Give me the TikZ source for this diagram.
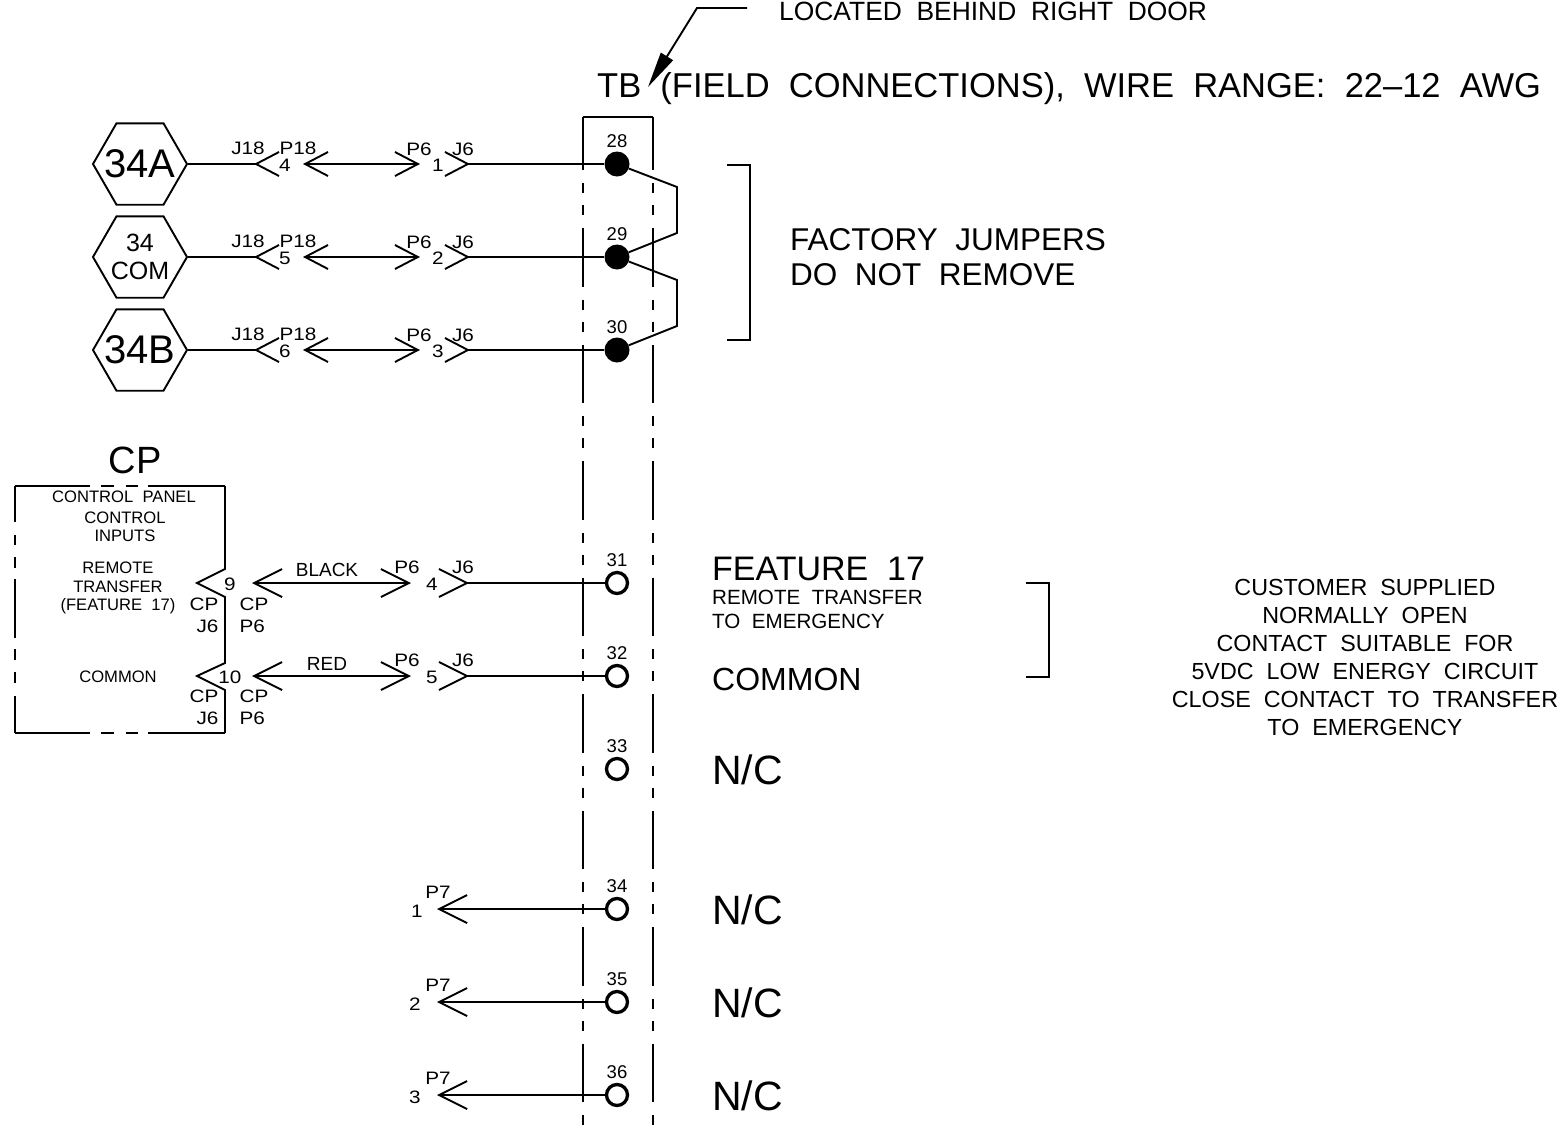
\documentclass[tikz,border=0pt]{standalone}
\usepackage{fontspec}
\setmainfont[WordSpace=2]{Liberation Sans}
\newfontfamily\pinfont[FakeStretch=1.15,WordSpace=2]{Liberation Sans}
\usepackage{tikz}
\usetikzlibrary{shapes.geometric, arrows.meta}
\tikzstyle{wire} = [line width=1.9pt, line cap=butt]
\tikzstyle{arrow} = [wire, <->, >={Straight Barb[length=23pt,width=24pt]}]
\tikzstyle{plug} = [wire, -{Straight Barb[reversed,length=23pt,width=24pt]}]
\tikzstyle{bigarrow} = [wire, <->, >={Straight Barb[length=28pt,width=28pt]}]
\tikzstyle{bigplug} = [wire, -{Straight Barb[reversed,length=28pt,width=28pt]}]
\tikzstyle{tbline} = [wire, dash pattern=on 58.5pt off 13pt on 10pt off 12pt on 10pt off 13pt, dash phase=5.5pt]
\tikzstyle{hexa} = [regular polygon, regular polygon sides=6, minimum size=94pt, inner sep=0pt, draw=black, wire]
\tikzstyle{solidterm} = [circle, fill=black, minimum size=25pt, inner sep=0pt]
\tikzstyle{openterm} = [circle, draw=black, fill=white, line width=3.3pt, minimum size=21pt, inner sep=0pt]
\tikzstyle{num} = [inner sep=0pt, node distance=23pt, font=\fontsize{18.5}{20}\selectfont]
\tikzstyle{pin} = [inner sep=0pt, font=\pinfont\fontsize{18}{22}\selectfont]
\tikzstyle{small} = [inner sep=0pt, align=center, font=\fontsize{16.6}{18.5}\selectfont]
\tikzstyle{lefttext} = [inner sep=0pt, anchor=west, align=left]

\begin{document}
\begin{tikzpicture}[x=1pt, y=-1pt, node distance=93pt]
    \useasboundingbox (0,0) rectangle (1558,1130);

    % terminal block
    \coordinate (tbl) at (583,117);
    \coordinate (tbr) at (653,117);
    \coordinate (tblb) at (583,1128);
    \coordinate (tbrb) at (653,1128);
    \draw [wire] (tbl) -- (tbr);
    \draw [tbline] (tbl) -- (tblb);
    \draw [tbline] (tbr) -- (tbrb);

    \node (t28) [solidterm] at (617,164) {};
    \node (t29) [solidterm, below of=t28] {};
    \node (t30) [solidterm, below of=t29] {};
    \node (t31) [openterm, below of=t30, yshift=-140pt] {};
    \node (t32) [openterm, below of=t31] {};
    \node (t33) [openterm, below of=t32] {};
    \node (t34) [openterm, below of=t33, yshift=-47pt] {};
    \node (t35) [openterm, below of=t34] {};
    \node (t36) [openterm, below of=t35] {};
    \node (n28) [num, above of=t28] {28};
    \node (n29) [num, above of=t29] {29};
    \node (n30) [num, above of=t30] {30};
    \node (n31) [num, above of=t31] {31};
    \node (n32) [num, above of=t32] {32};
    \node (n33) [num, above of=t33] {33};
    \node (n34) [num, above of=t34] {34};
    \node (n35) [num, above of=t35] {35};
    \node (n36) [num, above of=t36] {36};

    % title and pointer
    \node (located) [lefttext, font=\fontsize{26.4}{28}\selectfont] at (779,11) {LOCATED BEHIND RIGHT DOOR};
    \node (tbtitle) [lefttext, font=\fontsize{34.5}{36}\selectfont] at (597,89) {TB (FIELD CONNECTIONS), WIRE RANGE: 22–12 AWG};
    \coordinate (lead) at (747,8);
    \coordinate (bend) at (697,8);
    \coordinate (tbtip) at (648,87);
    \draw [wire, -{Triangle[length=36pt,width=14pt]}] (lead) -- (bend) -- (tbtip);

    % hexagons
    \node (h34a) [hexa] at (140,164) {};
    \node (h34c) [hexa, below of=h34a] {};
    \node (h34b) [hexa, below of=h34c] {};
    \node (l34a) [font=\fontsize{40}{42}\selectfont] at (h34a) {34A};
    \node (l34c) [align=center, font=\fontsize{25}{28}\selectfont] at (h34c) {34\\COM};
    \node (l34b) [font=\fontsize{40}{42}\selectfont] at (h34b) {34B};

    % first row
    \coordinate (a1) at (280,164);
    \coordinate (a2) at (303,164);
    \coordinate (a3) at (420,164);
    \coordinate (a4) at (444,164);
    \draw [plug] (h34a) -- (a1);
    \draw [arrow] (a2) -- (a3);
    \draw [plug] (t28) -- (a4);
    \node (j18a) [pin] at (248,148) {J18};
    \node (p18a) [pin] at (298,148) {P18};
    \node (pina) [pin] at (285,165) {4};
    \node (p6a) [pin] at (419,149) {P6};
    \node (j6a) [pin] at (463,149) {J6};
    \node (pinb) [pin] at (438,165) {1};

    % second row
    \coordinate (b1) at (280,257);
    \coordinate (b2) at (303,257);
    \coordinate (b3) at (420,257);
    \coordinate (b4) at (444,257);
    \draw [plug] (h34c) -- (b1);
    \draw [arrow] (b2) -- (b3);
    \draw [plug] (t29) -- (b4);
    \node (j18b) [pin] at (248,241) {J18};
    \node (p18b) [pin] at (298,241) {P18};
    \node (pinc) [pin] at (285,258) {5};
    \node (p6b) [pin] at (419,242) {P6};
    \node (j6b) [pin] at (463,242) {J6};
    \node (pind) [pin] at (438,258) {2};

    % third row
    \coordinate (c1) at (280,350);
    \coordinate (c2) at (303,350);
    \coordinate (c3) at (420,350);
    \coordinate (c4) at (444,350);
    \draw [plug] (h34b) -- (c1);
    \draw [arrow] (c2) -- (c3);
    \draw [plug] (t30) -- (c4);
    \node (j18c) [pin] at (248,334) {J18};
    \node (p18c) [pin] at (298,334) {P18};
    \node (pine) [pin] at (285,351) {6};
    \node (p6c) [pin] at (419,335) {P6};
    \node (j6c) [pin] at (463,335) {J6};
    \node (pinf) [pin] at (438,351) {3};

    % factory jumpers
    \coordinate (jp1) at (677,187);
    \coordinate (jp2) at (677,233);
    \coordinate (jp3) at (677,280);
    \coordinate (jp4) at (677,326);
    \draw [wire] (t28) -- (jp1) -- (jp2) -- (t29);
    \draw [wire] (t29) -- (jp3) -- (jp4) -- (t30);
    \draw [wire] (727,165) -- (750,165) -- (750,340) -- (727,340);
    \node (jumpers) [lefttext, font=\fontsize{31.5}{35}\selectfont] at (790,257) {FACTORY JUMPERS\\DO NOT REMOVE};

    % control panel
    \draw [wire] (225,486) -- (225,569) -- (197,583) -- (225,597) -- (225,663) -- (197,676) -- (225,690) -- (225,733);
    \draw [wire, dash pattern=on 75pt off 11pt on 13pt off 12pt on 12pt off 10pt on 77pt] (15,486) -- (225,486);
    \draw [wire, dash pattern=on 75pt off 11pt on 13pt off 12pt on 12pt off 10pt on 77pt] (15,733) -- (225,733);
    \draw [wire, dash pattern=on 36pt off 13pt on 10pt off 12pt on 11pt off 11pt on 59pt off 11pt on 11pt off 12pt on 11pt off 13pt on 37pt] (15,486) -- (15,733);
    \node (cp) [inner sep=0pt, font=\fontsize{38}{40}\selectfont] at (135,460) {CP};
    \node (cptitle) [small] at (124,497) {CONTROL PANEL};
    \node (cpinputs) [small] at (125,527) {CONTROL\\INPUTS};
    \node (cpremote) [small] at (118,588) {REMOTE\\TRANSFER\\(FEATURE 17)};
    \node (cpcommon) [small] at (118,677) {COMMON};
    \node (n9) [pin] at (230,584) {9};
    \node (n10) [pin] at (230,677) {10};
    \node (cpj1) [pin, align=right] at (204,615) {CP\\J6};
    \node (cpp1) [pin, align=left] at (254,615) {CP\\P6};
    \node (cpj2) [pin, align=right] at (204,707) {CP\\J6};
    \node (cpp2) [pin, align=left] at (254,707) {CP\\P6};

    % feature 17 wires
    \coordinate (d1) at (252,583);
    \coordinate (d2) at (411,583);
    \coordinate (d3) at (438,583);
    \coordinate (e1) at (252,676);
    \coordinate (e2) at (411,676);
    \coordinate (e3) at (438,676);
    \draw [bigarrow] (d1) -- (d2);
    \draw [bigplug] (t31) -- (d3);
    \draw [bigarrow] (e1) -- (e2);
    \draw [bigplug] (t32) -- (e3);
    \node (black) [pin, font=\fontsize{19}{21}\selectfont] at (327,570) {BLACK};
    \node (red) [pin, font=\fontsize{19}{21}\selectfont] at (327,664) {RED};
    \node (p6d) [pin] at (407,567) {P6};
    \node (j6d) [pin] at (463,567) {J6};
    \node (ping) [pin] at (432,584) {4};
    \node (p6e) [pin] at (407,660) {P6};
    \node (j6e) [pin] at (463,660) {J6};
    \node (pinh) [pin] at (432,677) {5};

    % spare wires
    \coordinate (f1) at (437,909);
    \coordinate (f2) at (437,1002);
    \coordinate (f3) at (437,1095);
    \draw [wire, -{Straight Barb[length=28pt,width=28pt]}] (t34) -- (f1);
    \draw [wire, -{Straight Barb[length=28pt,width=28pt]}] (t35) -- (f2);
    \draw [wire, -{Straight Barb[length=28pt,width=28pt]}] (t36) -- (f3);
    \node (p7a) [pin] at (438,892) {P7};
    \node (p7b) [pin] at (438,985) {P7};
    \node (p7c) [pin] at (438,1078) {P7};
    \node (pini) [pin] at (417,911) {1};
    \node (pinj) [pin] at (415,1004) {2};
    \node (pink) [pin] at (415,1097) {3};

    % right hand text
    \node (feature) [lefttext, font=\fontsize{34}{36}\selectfont] at (712,569) {FEATURE 17};
    \node (remote) [lefttext, font=\fontsize{20.6}{24}\selectfont] at (712,609) {REMOTE TRANSFER\\TO EMERGENCY};
    \node (common) [lefttext, font=\fontsize{32}{34}\selectfont] at (712,679) {COMMON};
    \node (nc33) [lefttext, font=\fontsize{41}{43}\selectfont] at (712,770) {N/C};
    \node (nc34) [lefttext, font=\fontsize{41}{43}\selectfont] at (712,910) {N/C};
    \node (nc35) [lefttext, font=\fontsize{41}{43}\selectfont] at (712,1003) {N/C};
    \node (nc36) [lefttext, font=\fontsize{41}{43}\selectfont] at (712,1096) {N/C};
    \draw [wire] (1026,583) -- (1049,583) -- (1049,677) -- (1026,677);
    \node (customer) [inner sep=0pt, align=center, font=\fontsize{23.3}{28}\selectfont] at (1365,657) {CUSTOMER SUPPLIED\\NORMALLY OPEN\\CONTACT SUITABLE FOR\\5VDC LOW ENERGY CIRCUIT\\CLOSE CONTACT TO TRANSFER\\TO EMERGENCY};
\end{tikzpicture}
\end{document}
